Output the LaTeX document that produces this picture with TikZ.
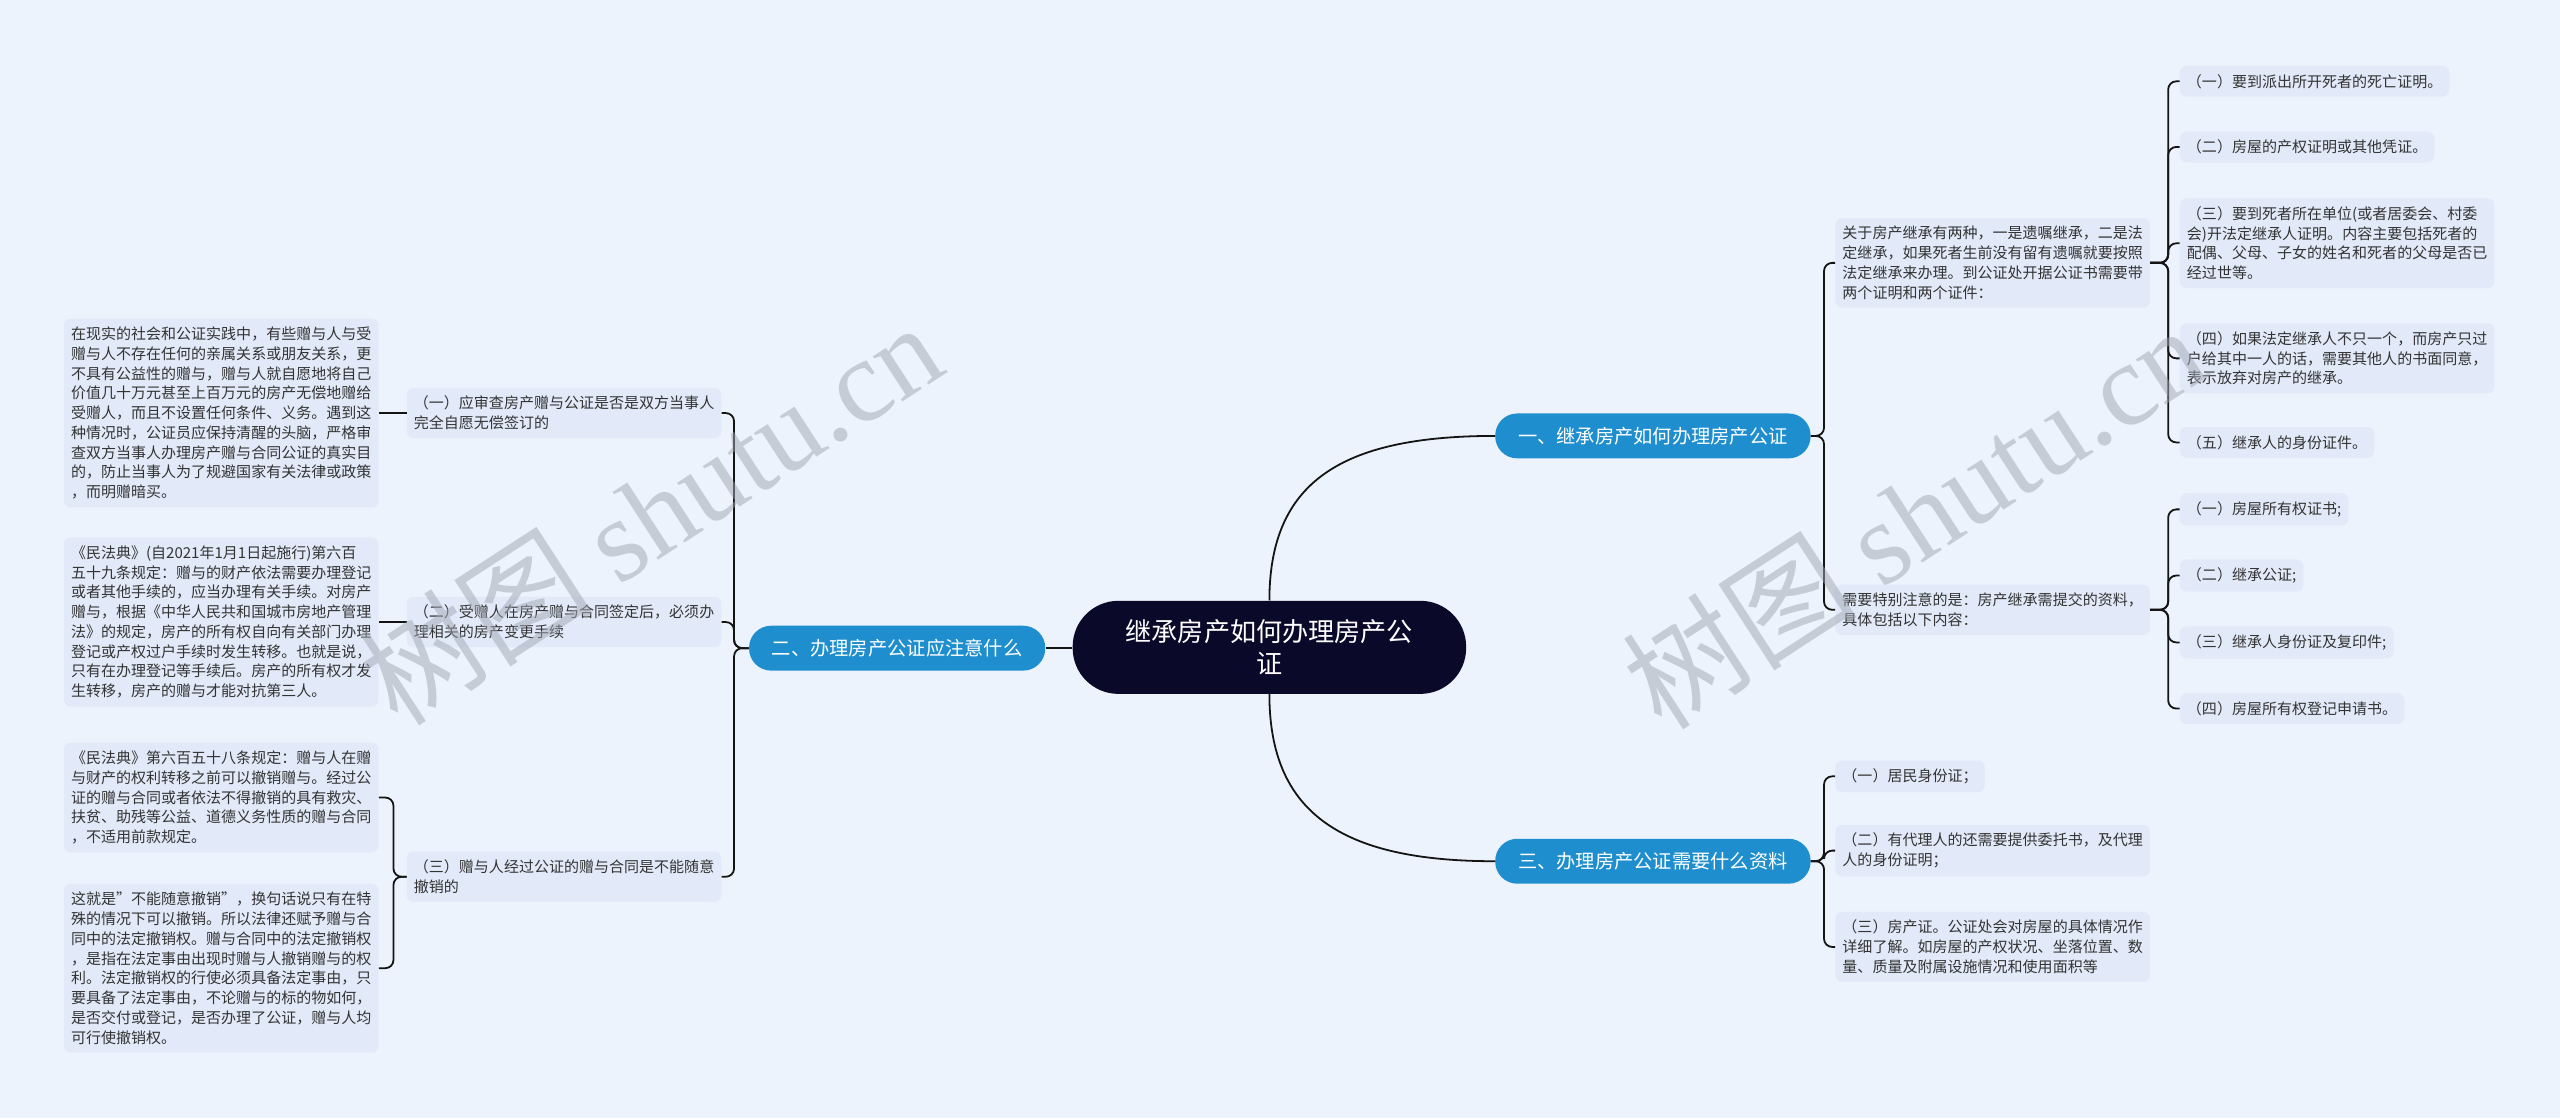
\documentclass[tikz,border=0pt]{standalone}
\usepackage{fontspec}
\setmainfont{Noto Sans CJK SC}
\newfontfamily\wmlatin{Liberation Serif}
\usetikzlibrary{calc}
\definecolor{bgc}{RGB}{237,243,252}
\definecolor{leafc}{RGB}{226,234,249}
\definecolor{brc}{RGB}{31,142,206}
\definecolor{rootc}{RGB}{11,9,42}
\definecolor{txtc}{RGB}{51,51,51}
\definecolor{linec}{RGB}{20,20,20}
\definecolor{wmc}{RGB}{160,166,178}
\begin{document}
\begin{tikzpicture}[x=1pt,y=-1pt,
  leafbox/.style={fill=leafc, rounded corners=4pt, text=txtc, font=\fontsize{9.2}{12.1}\selectfont, inner xsep=4.3pt, inner ysep=5pt, align=left},
  wleaf/.style={leafbox, text width=184pt},
  branchbox/.style={fill=brc, text=white, rounded corners=13.5pt, font=\fontsize{11.8}{14}\selectfont, minimum height=27.5pt, inner xsep=14pt},
  rootbox/.style={fill=rootc, text=white, rounded corners=28pt, font=\fontsize{16}{20}\selectfont, minimum width=241pt, minimum height=57pt, text width=180pt, align=center},
  conn/.style={draw=linec, line width=1.1pt, rounded corners=5pt},
  wm/.style={text=wmc, opacity=0.5, rotate=33}
]
\fill[bgc] (0,0) rectangle (1568,685);
\useasboundingbox (0,0) rectangle (1568,685);

% root and branches
\node[rootbox] (root) at (777.5,396.5) {继承房产如何办理房产公\\证};
\node[branchbox] (b2) at (549.5,397) {二、办理房产公证应注意什么};
\node[branchbox, anchor=west] (b1) at (915.6,267) {一、继承房产如何办理房产公证};
\node[branchbox, anchor=west] (b3) at (915.6,527.5) {三、办理房产公证需要什么资料};

% left level 2
\node[wleaf, anchor=east] (l1) at (442,253) {（一）应审查房产赠与公证是否是双方当事人\\完全自愿无偿签订的};
\node[wleaf, anchor=east] (l2) at (442,381) {（二）受赠人在房产赠与合同签定后，必须办\\理相关的房产变更手续};
\node[wleaf, anchor=east] (l3) at (442,537) {（三）赠与人经过公证的赠与合同是不能随意\\撤销的};

% left leaves
\node[wleaf, anchor=east] (la) at (232,253) {在现实的社会和公证实践中，有些赠与人与受\\赠与人不存在任何的亲属关系或朋友关系，更\\不具有公益性的赠与，赠与人就自愿地将自己\\价值几十万元甚至上百万元的房产无偿地赠给\\受赠人，而且不设置任何条件、义务。遇到这\\种情况时，公证员应保持清醒的头脑，严格审\\查双方当事人办理房产赠与合同公证的真实目\\的，防止当事人为了规避国家有关法律或政策\\，而明赠暗买。};
\node[wleaf, anchor=east] (lb) at (232,381) {《民法典》(自2021年1月1日起施行)第六百\\五十九条规定：赠与的财产依法需要办理登记\\或者其他手续的，应当办理有关手续。对房产\\赠与，根据《中华人民共和国城市房地产管理\\法》的规定，房产的所有权自向有关部门办理\\登记或产权过户手续时发生转移。也就是说，\\只有在办理登记等手续后。房产的所有权才发\\生转移，房产的赠与才能对抗第三人。};
\node[wleaf, anchor=east] (lc) at (232,488.5) {《民法典》第六百五十八条规定：赠与人在赠\\与财产的权利转移之前可以撤销赠与。经过公\\证的赠与合同或者依法不得撤销的具有救灾、\\扶贫、助残等公益、道德义务性质的赠与合同\\，不适用前款规定。};
\node[wleaf, anchor=east] (ld) at (232,593) {这就是”不能随意撤销”，换句话说只有在特\\殊的情况下可以撤销。所以法律还赋予赠与合\\同中的法定撤销权。赠与合同中的法定撤销权\\，是指在法定事由出现时赠与人撤销赠与的权\\利。法定撤销权的行使必须具备法定事由，只\\要具备了法定事由，不论赠与的标的物如何，\\是否交付或登记，是否办理了公证，赠与人均\\可行使撤销权。};

% right level 2
\node[wleaf, anchor=west] (r1) at (1124,161) {关于房产继承有两种，一是遗嘱继承，二是法\\定继承，如果死者生前没有留有遗嘱就要按照\\法定继承来办理。到公证处开据公证书需要带\\两个证明和两个证件：};
\node[wleaf, anchor=west] (r2) at (1124,373.5) {需要特别注意的是：房产继承需提交的资料，\\具体包括以下内容：};
\node[leafbox, anchor=west] (r3a) at (1124,475.5) {（一）居民身份证；};
\node[wleaf, anchor=west] (r3b) at (1124,521) {（二）有代理人的还需要提供委托书，及代理\\人的身份证明；};
\node[wleaf, anchor=west] (r3c) at (1124,580) {（三）房产证。公证处会对房屋的具体情况作\\详细了解。如房屋的产权状况、坐落位置、数\\量、质量及附属设施情况和使用面积等};

% right leaves of r1
\node[leafbox, anchor=west] (r1a) at (1335,49.8) {（一）要到派出所开死者的死亡证明。};
\node[leafbox, anchor=west] (r1b) at (1335,90) {（二）房屋的产权证明或其他凭证。};
\node[wleaf, anchor=west] (r1c) at (1335,149) {（三）要到死者所在单位(或者居委会、村委\\会)开法定继承人证明。内容主要包括死者的\\配偶、父母、子女的姓名和死者的父母是否已\\经过世等。};
\node[wleaf, anchor=west] (r1d) at (1335,219.5) {（四）如果法定继承人不只一个，而房产只过\\户给其中一人的话，需要其他人的书面同意，\\表示放弃对房产的继承。};
\node[leafbox, anchor=west] (r1e) at (1335,271) {（五）继承人的身份证件。};

% right leaves of r2
\node[leafbox, anchor=west] (r2a) at (1335,312) {（一）房屋所有权证书;};
\node[leafbox, anchor=west] (r2b) at (1335,352.5) {（二）继承公证;};
\node[leafbox, anchor=west] (r2c) at (1335,393.5) {（三）继承人身份证及复印件;};
\node[leafbox, anchor=west] (r2d) at (1335,434) {（四）房屋所有权登记申请书。};

% connectors
\draw[conn] (b2.east) -- (root.west |- b2.east);
\draw[conn] (root.north) .. controls +(0,-72) and +(-95,0) .. (b1.west);
\draw[conn] (root.south) .. controls +(0,72) and +(-95,0) .. (b3.west);

\foreach \n in {l1,l2,l3} \draw[conn] (b2.west) -- ++(-9,0) |- (\n.east);
\draw[conn] (l1.west) -- (l1.west -| la.east);
\draw[conn] (l2.west) -- (l2.west -| lb.east);
\foreach \n in {lc,ld} \draw[conn] (l3.west) -- ++(-8,0) |- (\n.east);

\foreach \n in {r1,r2} \draw[conn] (b1.east) -- ++(8,0) |- (\n.west);
\foreach \n in {r3a,r3b,r3c} \draw[conn] (b3.east) -- ++(8,0) |- (\n.west);
\foreach \n in {r1a,r1b,r1c,r1d,r1e} \draw[conn] (r1.east) -- ++(11,0) |- (\n.west);
\foreach \n in {r2a,r2b,r2c,r2d} \draw[conn] (r2.east) -- ++(11,0) |- (\n.west);

% watermarks
\node[wm, font=\fontsize{72}{72}\selectfont] (wm1) at (398,314) {树图 {\wmlatin shutu.cn}};
\node[wm, font=\fontsize{72}{72}\selectfont] (wm2) at (1172,316) {树图 {\wmlatin shutu.cn}};
\end{tikzpicture}
\end{document}
